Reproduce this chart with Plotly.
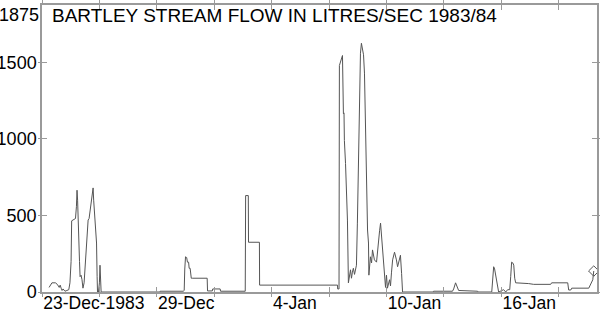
import pandas as pd
import plotly.graph_objects as go

# Time in days since 23-Dec-1983 00:00, and flow in litres/sec
t_days = [0.37, 0.45, 0.52, 0.70, 0.80, 0.90, 0.95, 1.00, 1.05, 1.10, 1.20, 1.30, 1.40, 1.46, 1.52,
          1.55, 1.65, 1.75, 1.80, 1.83, 1.86, 1.88, 1.93, 1.96, 1.99, 2.04, 2.09, 2.14, 2.20, 2.25,
          2.30, 2.36, 2.41, 2.46, 2.55, 2.62, 2.67, 2.70, 2.75, 2.80, 2.85, 2.88, 2.90, 2.95, 3.00,
          3.03, 3.07, 3.09, 6.15, 6.17, 7.38, 7.43, 7.46, 7.50, 7.56, 7.60, 7.66, 7.69, 7.74, 7.76,
          7.80, 7.85, 8.63, 8.65, 8.90, 8.92, 9.31, 9.33, 10.62, 10.64, 10.78, 10.79, 11.36, 11.37,
          15.44, 15.45, 15.52, 15.54, 15.59, 15.70, 15.75, 15.78, 15.80, 15.86, 15.96, 16.01, 16.12,
          16.17, 16.22, 16.27, 16.33, 16.43, 16.48, 16.54, 16.59, 16.64, 16.69, 16.74, 16.80, 16.85,
          16.90, 16.95, 17.01, 17.06, 17.08, 17.16, 17.22, 17.27, 17.32, 17.37, 17.48, 17.58, 17.64,
          17.69, 17.74, 17.79, 17.84, 17.95, 18.00, 18.05, 18.16, 18.21, 18.26, 18.32, 18.42, 18.47,
          18.52, 18.58, 18.68, 18.73, 18.79, 18.84, 20.44, 20.46, 21.45, 21.51, 21.61, 21.66, 21.72,
          21.77, 22.76, 22.78, 23.50, 23.55, 23.60, 23.65, 23.76, 23.81, 23.86, 24.12, 24.23, 24.33,
          24.44, 24.49, 24.54, 24.60, 24.65, 24.70, 24.75, 25.43, 25.69, 26.58, 26.63, 27.47, 27.52,
          27.63, 27.68, 28.57, 28.62, 28.78, 28.83]
flow = [30, 45, 60, 60, 50, 30, 45, 25, 10, 20, 5, 10, 15, 60, 200,
        465, 470, 480, 560, 665, 600, 490, 295, 200, 100, 110, 80, 25, 60, 145,
        275, 380, 470, 480, 560, 640, 680, 600, 490, 420, 320, 100, 0, 0, 60,
        175, 60, 0, 0, 5, 5, 10, 150, 230, 225, 195, 195, 155, 155, 125,
        90, 90, 90, 7, 7, 20, 20, 5, 5, 630, 630, 325, 325, 45,
        45, 20, 20, 1480, 1500, 1545, 1165, 1170, 990, 840, 470, 60, 145,
        90, 130, 155, 115, 175, 450, 905, 1400, 1560, 1625, 1590, 1550, 1430,
        1055, 685, 405, 320, 110, 230, 190, 275, 240, 210, 195, 360, 400,
        450, 370, 280, 190, 30, 110, 25, 80, 40, 125, 210, 260, 240,
        210, 165, 230, 240, 120, 0, 0, 5, 5, 20, 60, 45, 30,
        10, 5, 0, 0, 80, 165, 150, 60, 30, 0, 15, 0, 15,
        15, 100, 195, 190, 175, 90, 60, 55, 50, 50, 60, 60, 13,
        13, 25, 25, 40, 80, 137]

x_tick_days = [0, 3, 6, 9, 12, 15, 18, 21, 24, 27]
x_tick_labels = ["23-Dec-1983", "", "29-Dec", "", "4-Jan", "", "10-Jan", "", "16-Jan", ""]
y_tick_vals = [0, 500, 1000, 1500]
y_tick_labels = ["0", "500", "1000", "1500"]
y_max = 1875
title_text = "BARTLEY STREAM FLOW IN LITRES/SEC 1983/84"

base = pd.Timestamp("1983-12-23")
x = base + pd.to_timedelta(t_days, unit="D")
tickvals = [base + pd.Timedelta(days=d) for d in x_tick_days]
x_range = [base, base + pd.Timedelta(days=29)]

font = "Liberation Sans, Arial, sans-serif"
axis_col = "#9a9a9a"

fig = go.Figure()
fig.add_trace(go.Scatter(x=x, y=flow, mode="lines",
                         line=dict(color="#555555", width=1), showlegend=False,
                         hoverinfo="skip"))
fig.add_trace(go.Scatter(x=[x[-1]], y=[flow[-1]], mode="markers", xaxis="x2", yaxis="y2",
                         marker=dict(symbol="diamond-open", size=8, color="#555555",
                                     line=dict(width=1)), showlegend=False))

fig.update_layout(
    width=600, height=311,
    margin=dict(l=42, r=3, t=5, b=19, autoexpand=False),
    paper_bgcolor="white", plot_bgcolor="white",
    font=dict(family=font, size=18, color="black"),
    xaxis=dict(
        range=x_range, tickvals=tickvals, ticktext=x_tick_labels,
        ticks="inside", ticklen=5, tickcolor=axis_col, tickwidth=1,
        ticklabelposition="outside right", ticklabelstandoff=-6,
        showline=True, linecolor=axis_col, linewidth=1.5, mirror="ticks",
        showgrid=False, zeroline=False, automargin=False,
        tickfont=dict(size=17.5, color="black"),
    ),
    yaxis=dict(
        range=[0, y_max], tickvals=y_tick_vals, ticktext=y_tick_labels,
        ticks="inside", ticklen=5, tickcolor=axis_col, tickwidth=1,
        showline=True, linecolor=axis_col, linewidth=1.5, mirror="ticks",
        showgrid=False, zeroline=False, automargin=False,
        tickfont=dict(size=18, color="black"),
    ),
    xaxis2=dict(
        overlaying="x", range=x_range, tickvals=tickvals, showticklabels=False,
        ticks="outside", ticklen=4, tickcolor=axis_col, tickwidth=1,
        showline=False, mirror="ticks", showgrid=False, zeroline=False, automargin=False,
        anchor="y2", side="bottom",
    ),
    yaxis2=dict(
        overlaying="y", range=[0, y_max], tickvals=y_tick_vals, showticklabels=False,
        ticks="outside", ticklen=3, tickcolor=axis_col, tickwidth=1,
        showline=False, mirror="ticks", showgrid=False, zeroline=False, automargin=False,
        anchor="x2", side="left",
    ),
)
fig.add_annotation(text=str(y_max), xref="paper", yref="y", x=0, y=y_max,
                   xanchor="right", yanchor="top", xshift=-1, yshift=2, showarrow=False,
                   font=dict(size=18, color="black"))
fig.add_annotation(text=title_text, xref="paper", yref="paper", x=0.015, y=1,
                   xanchor="left", yanchor="top", yshift=2, showarrow=False,
                   font=dict(size=19, color="black"))

fig.write_html("out.html", config={"displayModeBar": False},
               post_script="document.body.style.margin='0';")
